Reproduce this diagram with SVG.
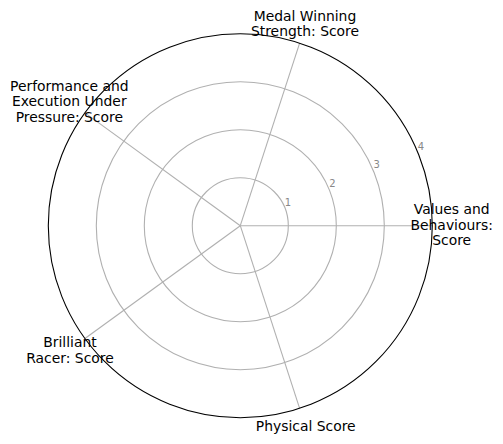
<svg xmlns="http://www.w3.org/2000/svg" width="503" height="444" viewBox="0 0 503 444">
<style>
.grid{fill:none;stroke:#b0b0b0;stroke-width:1.1}
.frame{fill:none;stroke:#000;stroke-width:1.1}
.lbl{font-family:"DejaVu Sans",sans-serif;font-size:13.9px;fill:#000;text-anchor:middle}
.tick{font-family:"DejaVu Sans",sans-serif;font-size:10px;fill:#888;text-anchor:middle}
</style>
<rect width="503" height="444" fill="#fff"/>
<g id="grid-rings">
<circle class="grid" cx="240.3" cy="225.7" r="48"/>
<circle class="grid" cx="240.3" cy="225.7" r="96"/>
<circle class="grid" cx="240.3" cy="225.7" r="144"/>
</g>
<g id="connectors">
<line class="grid" x1="240.3" y1="225.7" x2="432.3" y2="225.7"/>
<line class="grid" x1="240.3" y1="225.7" x2="299.63" y2="43.1"/>
<line class="grid" x1="240.3" y1="225.7" x2="84.97" y2="112.84"/>
<line class="grid" x1="240.3" y1="225.7" x2="84.97" y2="338.56"/>
<line class="grid" x1="240.3" y1="225.7" x2="299.63" y2="408.3"/>
</g>
<g id="outer-frame">
<circle class="frame" cx="240.3" cy="225.7" r="192"/>
</g>
<g id="tick-labels">
<text class="tick" x="288" y="206">1</text>
<text class="tick" x="332.5" y="187">2</text>
<text class="tick" x="376.8" y="168.3">3</text>
<text class="tick" x="421" y="150">4</text>
</g>
<g id="node-values">
<text class="lbl" x="451.7" y="214">Values and</text>
<text class="lbl" x="451.7" y="229.5">Behaviours:</text>
<text class="lbl" x="451.7" y="245">Score</text>
</g>
<g id="node-medal">
<text class="lbl" x="305" y="20.7">Medal Winning</text>
<text class="lbl" x="305" y="36.2">Strength: Score</text>
</g>
<g id="node-performance">
<text class="lbl" x="69.3" y="90.5">Performance and</text>
<text class="lbl" x="69.3" y="106">Execution Under</text>
<text class="lbl" x="69.3" y="121.5">Pressure: Score</text>
</g>
<g id="node-brilliant">
<text class="lbl" x="70" y="347">Brilliant</text>
<text class="lbl" x="70" y="362.5">Racer: Score</text>
</g>
<g id="node-physical">
<text class="lbl" x="305.7" y="430.7">Physical Score</text>
</g>
</svg>
